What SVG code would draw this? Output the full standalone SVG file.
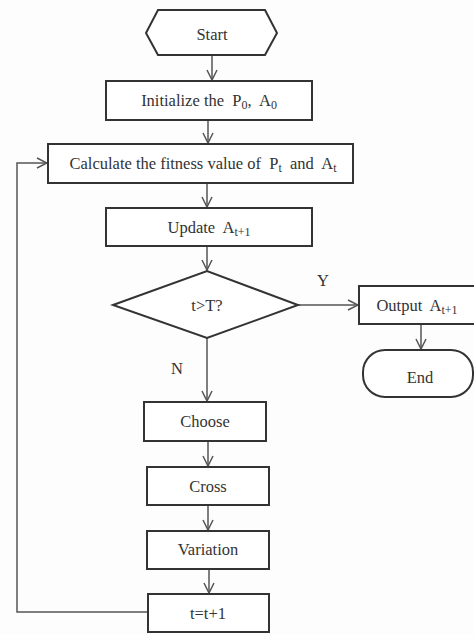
<svg xmlns="http://www.w3.org/2000/svg" width="474" height="635" viewBox="0 0 474 635">
<defs>
<style>
.box{fill:#fff;stroke:#333;stroke-width:2}
.ln{fill:none;stroke:#555;stroke-width:1.5}
.t{font-family:"Liberation Serif","Times New Roman",serif;font-size:16.5px;fill:#333;text-anchor:middle;dominant-baseline:central;white-space:pre}
.s{font-size:12px}
</style>
<marker id="ah" viewBox="0 0 12 12" refX="11" refY="6" markerWidth="12" markerHeight="12" markerUnits="userSpaceOnUse" orient="auto">
<path d="M1,1 L11,6 L1,11" fill="none" stroke="#555" stroke-width="1.5"/>
</marker>
</defs>
<rect width="474" height="635" fill="#fdfdfd"/>
<g id="connectors">
<line class="ln" x1="212" y1="55" x2="212" y2="80" marker-end="url(#ah)"/>
<line class="ln" x1="208" y1="120" x2="208" y2="143" marker-end="url(#ah)"/>
<line class="ln" x1="207" y1="183" x2="207" y2="207" marker-end="url(#ah)"/>
<line class="ln" x1="207" y1="246" x2="207" y2="270" marker-end="url(#ah)"/>
<line class="ln" x1="298" y1="305" x2="358" y2="305" marker-end="url(#ah)"/>
<line class="ln" x1="421" y1="324" x2="421" y2="349" marker-end="url(#ah)"/>
<line class="ln" x1="207" y1="338" x2="207" y2="401" marker-end="url(#ah)"/>
<line class="ln" x1="208" y1="441" x2="208" y2="466" marker-end="url(#ah)"/>
<line class="ln" x1="208" y1="505" x2="208" y2="530" marker-end="url(#ah)"/>
<line class="ln" x1="209" y1="569" x2="209" y2="593" marker-end="url(#ah)"/>
<polyline class="ln" points="148,612 17,612 17,163 47,163" marker-end="url(#ah)"/>
<text class="t" x="323" y="280">Y</text>
<text class="t" x="177" y="368">N</text>
</g>
<g id="start">
<polygon class="box" points="146,33 158,10 265,10 277,33 265,55 158,55"/>
<text class="t" x="212" y="34">Start</text>
</g>
<g id="init">
<rect class="box" x="106" y="81" width="206" height="39"/>
<text class="t" x="209" y="100">Initialize the  P<tspan class="s" dy="5">0</tspan><tspan dy="-5">,  A</tspan><tspan class="s" dy="5">0</tspan></text>
</g>
<g id="calc">
<rect class="box" x="48" y="144" width="305" height="39"/>
<text class="t" x="203" y="163">Calculate the fitness value of  P<tspan class="s" dy="5">t</tspan><tspan dy="-5">  and  A</tspan><tspan class="s" dy="5">t</tspan></text>
</g>
<g id="update">
<rect class="box" x="106" y="208" width="206" height="38"/>
<text class="t" x="209" y="227">Update  A<tspan class="s" dy="5">t+1</tspan></text>
</g>
<g id="decision">
<polygon class="box" points="113,305 207,271 298,305 207,338"/>
<text class="t" x="207" y="305">t&gt;T?</text>
</g>
<g id="output">
<rect class="box" x="359" y="286" width="118" height="38"/>
<text class="t" x="417" y="305">Output  A<tspan class="s" dy="5">t+1</tspan></text>
</g>
<g id="end">
<rect class="box" x="363" y="350" width="110" height="47" rx="22" ry="22"/>
<text class="t" x="420" y="377">End</text>
</g>
<g id="choose">
<rect class="box" x="144" y="402" width="122" height="39"/>
<text class="t" x="205" y="421">Choose</text>
</g>
<g id="cross">
<rect class="box" x="147" y="467" width="122" height="38"/>
<text class="t" x="208" y="486">Cross</text>
</g>
<g id="variation">
<rect class="box" x="147" y="531" width="122" height="38"/>
<text class="t" x="208" y="549">Variation</text>
</g>
<g id="increment">
<rect class="box" x="148" y="594" width="121" height="38"/>
<text class="t" x="208" y="613">t=t+1</text>
</g>
</svg>
